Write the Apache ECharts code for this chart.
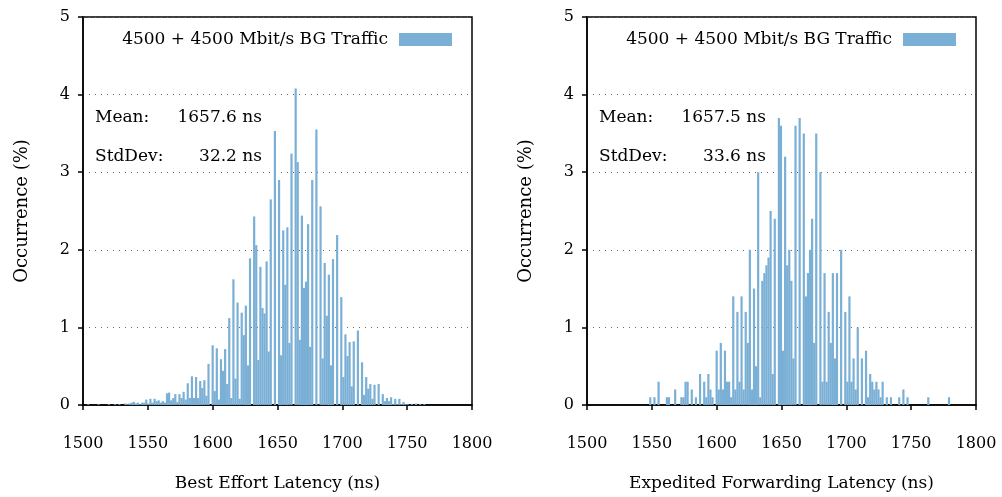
<!DOCTYPE html>
<html>
<head>
<meta charset="utf-8">
<script src="https://cdn.jsdelivr.net/npm/echarts@6/dist/echarts.min.js"></script>
<style>
  html, body { margin: 0; padding: 0; background: #fff; }
  #chart { width: 1002px; height: 497px; }
</style>
</head>
<body>
<div id="chart"></div>
<script>
// Latency histograms, 1.6 ns bins: [bin centre (ns), occurrence (%)]
const seriesName = '4500 + 4500 Mbit/s BG Traffic';

const beHistogram = [
  [1504.0,0.01],[1512.0,0.01],[1520.0,0.01],[1524.8,0.01],[1528.0,0.01],[1532.8,0.02],[1534.4,0.01],
  [1536.0,0.02],[1537.6,0.03],[1539.2,0.04],[1540.8,0.02],[1542.4,0.03],[1544.0,0.01],[1545.6,0.03],
  [1547.2,0.03],[1548.8,0.07],[1550.4,0.02],[1552.0,0.08],[1553.6,0.03],[1555.2,0.08],[1556.8,0.05],
  [1558.4,0.06],[1560.0,0.03],[1561.6,0.05],[1563.2,0.03],[1564.8,0.15],[1566.4,0.16],[1568.0,0.06],
  [1569.6,0.09],[1571.2,0.14],[1572.8,0.04],[1574.4,0.14],[1576.0,0.09],[1577.6,0.17],[1579.2,0.07],
  [1580.8,0.28],[1582.4,0.09],[1584.0,0.37],[1585.6,0.09],[1587.2,0.36],[1588.8,0.09],[1590.4,0.31],
  [1592.0,0.22],[1593.6,0.32],[1595.2,0.12],[1596.8,0.53],[1600.0,0.77],[1601.6,0.18],[1603.2,0.73],
  [1604.8,0.07],[1606.4,0.59],[1608.0,0.44],[1609.6,0.72],[1611.2,0.27],[1612.8,1.12],[1614.4,0.09],
  [1616.0,1.62],[1617.6,0.34],[1619.2,1.32],[1620.8,0.08],[1622.4,1.19],[1624.0,0.90],[1625.6,1.28],
  [1627.2,0.51],[1628.8,1.89],[1632.0,2.43],[1633.6,2.06],[1635.2,0.58],[1636.8,1.78],[1638.4,1.25],
  [1640.0,1.18],[1641.6,1.85],[1643.2,0.69],[1644.8,2.65],[1648.0,3.53],[1651.2,2.90],[1652.8,0.64],
  [1654.4,2.25],[1656.0,1.55],[1657.6,2.29],[1659.2,0.80],[1660.8,3.24],[1664.0,4.08],[1665.6,3.13],
  [1667.2,0.84],[1668.8,2.44],[1670.4,1.51],[1672.0,1.59],[1673.6,2.33],[1675.2,0.75],[1676.8,2.90],
  [1680.0,3.55],[1683.2,2.56],[1684.8,0.60],[1686.4,1.83],[1688.0,1.15],[1689.6,1.68],[1691.2,0.51],
  [1692.8,1.88],[1696.0,2.19],[1699.2,1.39],[1700.8,0.36],[1702.4,0.91],[1704.0,0.63],[1705.6,0.81],
  [1707.2,0.24],[1708.8,0.82],[1712.0,0.96],[1715.2,0.55],[1716.8,0.13],[1718.4,0.36],[1720.0,0.21],
  [1721.6,0.27],[1723.2,0.08],[1724.8,0.26],[1728.0,0.27],[1731.2,0.14],[1732.8,0.05],[1734.4,0.09],
  [1736.0,0.05],[1737.6,0.10],[1739.2,0.01],[1740.8,0.08],[1742.4,0.01],[1744.0,0.08],[1745.6,0.01],
  [1747.2,0.04],[1748.8,0.01],[1750.4,0.01],[1753.6,0.01],[1756.8,0.02],[1760.0,0.01],[1763.2,0.01]
];

const efHistogram = [
  [1548.8,0.1],[1552.0,0.1],[1555.2,0.3],[1561.6,0.1],[1563.2,0.1],[1568.0,0.2],[1572.8,0.1],
  [1574.4,0.1],[1576.0,0.3],[1577.6,0.3],[1580.8,0.2],[1584.0,0.1],[1587.2,0.4],[1590.4,0.3],
  [1592.0,0.1],[1593.6,0.4],[1595.2,0.2],[1596.8,0.1],[1600.0,0.7],[1601.6,0.2],[1603.2,0.8],
  [1604.8,0.2],[1606.4,0.7],[1608.0,0.3],[1609.6,0.3],[1611.2,0.1],[1612.8,1.4],[1614.4,0.2],
  [1616.0,1.2],[1617.6,0.3],[1619.2,1.4],[1620.8,0.2],[1622.4,1.2],[1624.0,0.8],[1625.6,2.0],
  [1627.2,0.2],[1628.8,1.5],[1630.4,0.5],[1632.0,3.0],[1633.6,0.1],[1635.2,1.6],[1636.8,1.7],
  [1638.4,1.8],[1640.0,1.9],[1641.6,2.5],[1643.2,0.4],[1644.8,2.4],[1648.0,3.7],[1649.6,3.6],
  [1651.2,0.7],[1652.8,3.2],[1654.4,1.8],[1656.0,2.0],[1657.6,1.6],[1659.2,0.6],[1660.8,3.6],
  [1664.0,3.7],[1667.2,3.5],[1668.8,1.4],[1670.4,1.7],[1672.0,2.0],[1673.6,2.4],[1675.2,0.8],
  [1676.8,3.5],[1680.0,3.0],[1681.6,0.3],[1683.2,1.7],[1684.8,0.3],[1686.4,1.2],[1688.0,0.8],
  [1689.6,1.7],[1691.2,0.6],[1692.8,1.7],[1696.0,2.0],[1699.2,1.2],[1700.8,0.3],[1702.4,1.4],
  [1704.0,0.3],[1705.6,0.6],[1707.2,0.2],[1708.8,1.0],[1712.0,0.6],[1715.2,0.7],[1716.8,0.1],
  [1718.4,0.4],[1720.0,0.3],[1721.6,0.2],[1723.2,0.3],[1724.8,0.2],[1726.4,0.1],[1728.0,0.3],
  [1731.2,0.1],[1734.4,0.1],[1740.8,0.1],[1744.0,0.2],[1747.2,0.1],[1763.2,0.1],[1779.2,0.1]
];

const statLabels = ['Mean:', 'StdDev:'];
const beStats = ['1657.6 ns', '32.2 ns'];
const efStats = ['1657.5 ns', '33.6 ns'];

const xTitles = ['Best Effort Latency (ns)', 'Expedited Forwarding Latency (ns)'];
const yTitle = 'Occurrence (%)';
const xRange = [1500, 1800, 50];
const yRange = [0, 5, 1];

const FONT = '"DejaVu Serif", serif';
const FS = 17;
const TICK_FS = 16;
const BAR = '#7aafd6';
const INK = '#000';

const grids = [
  { left: 83, top: 17, width: 389, height: 391 },
  { left: 587, top: 17, width: 389, height: 391 }
];

function xAxisFor(i) {
  return {
    type: 'value', gridIndex: i,
    min: xRange[0], max: xRange[1], interval: xRange[2],
    name: xTitles[i], nameLocation: 'middle', nameGap: 70,
    nameTextStyle: { fontFamily: FONT, fontSize: FS, color: INK },
    axisLine: { show: true, lineStyle: { color: INK, width: 1.5 } },
    axisTick: { show: true, inside: false, length: 5, lineStyle: { color: INK, width: 1.5 } },
    axisLabel: { margin: 31, fontFamily: FONT, fontSize: TICK_FS, color: INK,
      formatter: v => String(v) },
    splitLine: { show: false }
  };
}

function yAxisFor(i) {
  return {
    type: 'value', gridIndex: i,
    min: yRange[0], max: yRange[1], interval: yRange[2],
    name: yTitle, nameLocation: 'middle', nameGap: 52,
    nameTextStyle: { fontFamily: FONT, fontSize: 18, color: INK },
    axisLine: { show: true, lineStyle: { color: INK, width: 1.5 } },
    axisTick: { show: true, inside: false, length: 5, lineStyle: { color: INK, width: 1.5 } },
    axisLabel: { margin: 13, fontFamily: FONT, fontSize: TICK_FS, color: INK },
    splitLine: { show: true, lineStyle: { color: '#666', width: 1, type: [1, 5] } }
  };
}

function legendFor(rightPx) {
  return {
    show: true, data: [seriesName], selectedMode: false,
    right: rightPx, top: 31, padding: 0,
    align: 'right', icon: 'rect', itemWidth: 53, itemHeight: 13, itemGap: 0,
    textStyle: { fontFamily: FONT, fontSize: FS, color: INK, padding: [0, 6, 0, 0] }
  };
}

function statTexts(offsetX, values) {
  const out = [];
  const rows = [117.5, 156.5];
  rows.forEach((y, k) => {
    out.push({ type: 'text', style: { text: statLabels[k], x: 95 + offsetX, y: y,
      fill: INK, font: FS + 'px ' + FONT, align: 'left', verticalAlign: 'middle' } });
    out.push({ type: 'text', style: { text: values[k], x: 262 + offsetX, y: y,
      fill: INK, font: FS + 'px ' + FONT, align: 'right', verticalAlign: 'middle' } });
  });
  return out;
}

const chart = echarts.init(document.getElementById('chart'), null, { renderer: 'canvas' });
chart.setOption({
  animation: false,
  backgroundColor: '#fff',
  grid: grids.map(g => Object.assign({ show: true, borderColor: INK, borderWidth: 1.5, backgroundColor: 'transparent' }, g)),
  xAxis: [xAxisFor(0), xAxisFor(1)],
  yAxis: [yAxisFor(0), yAxisFor(1)],
  legend: [legendFor(550), legendFor(46)],
  series: [
    { name: seriesName, type: 'bar', xAxisIndex: 0, yAxisIndex: 0, data: beHistogram,
      barWidth: 2.2, itemStyle: { color: BAR } },
    { name: seriesName, type: 'bar', xAxisIndex: 1, yAxisIndex: 1, data: efHistogram,
      barWidth: 2.2, itemStyle: { color: BAR } }
  ],
  graphic: statTexts(0, beStats).concat(statTexts(504, efStats))
});
</script>
</body>
</html>
